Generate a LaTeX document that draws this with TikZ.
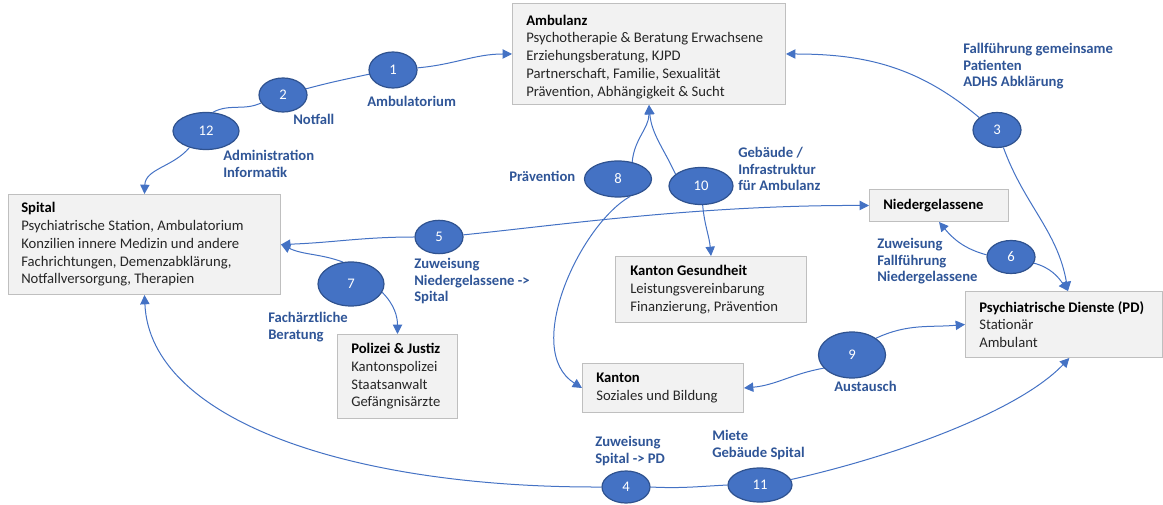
\documentclass[tikz,border=0pt]{standalone}
\usepackage{fontspec}
\setmainfont{Carlito}
\usetikzlibrary{arrows.meta,shapes.geometric}
\definecolor{eblue}{HTML}{4472C4}
\definecolor{eborder}{HTML}{2F528F}
\definecolor{lblue}{HTML}{2F5597}
\definecolor{bfill}{HTML}{F2F2F2}
\definecolor{bdraw}{HTML}{BFBFBF}
\definecolor{btext}{HTML}{262626}
\pgfdeclarelayer{bg}
\pgfsetlayers{bg,main}
\begin{document}
\begin{tikzpicture}[x=0.75pt,y=-0.75pt,
  box/.style={draw=bdraw, fill=bfill, line width=0.75pt, inner sep=0pt, anchor=north west},
  boxtext/.style={anchor=west, align=left, inner sep=0pt, text=btext, font=\fontsize{11pt}{13.3pt}\selectfont},
  num/.style={ellipse, fill=eblue, draw=eborder, line width=0.9pt, text=white, inner sep=0pt, font=\fontsize{11pt}{13pt}\selectfont},
  lab/.style={anchor=north west, align=left, inner sep=0pt, text=lblue, font=\fontsize{11pt}{12.4pt}\selectfont\bfseries},
  conn/.style={draw=eblue, line width=0.75pt},
  arr/.style={conn, -{Triangle[length=7pt,width=7pt]}},
]
\useasboundingbox (0,0) rectangle (1163,505);

% boxes
\node[box, minimum width=204.75pt, minimum height=75.75pt] (amb) at (512,3) {};
\node[boxtext] (ambt) at ([xshift=10.5pt,yshift=-2pt]amb.west) {{\bfseries\color{black}Ambulanz}\\Psychotherapie \& Beratung Erwachsene\\Erziehungsberatung, KJPD\\Partnerschaft, Familie, Sexualität\\Prävention, Abhängigkeit \& Sucht};

\node[box, minimum width=204pt, minimum height=75pt] (sp) at (8,194) {};
\node[boxtext] (spt) at ([xshift=9.75pt]sp.west) {{\bfseries\color{black}Spital}\\Psychiatrische Station, Ambulatorium\\Konzilien innere Medizin und andere\\Fachrichtungen, Demenzabklärung,\\Notfallversorgung, Therapien};

\node[box, minimum width=104.25pt, minimum height=24pt] (nied) at (869,189) {};
\node[boxtext] (niedt) at ([xshift=10.5pt]nied.west) {{\bfseries\color{black}Niedergelassene}};

\node[box, minimum width=143.25pt, minimum height=49.5pt] (kg) at (615,256) {};
\node[boxtext] (kgt) at ([xshift=11.25pt]kg.west) {{\bfseries\color{black}Kanton Gesundheit}\\Leistungsvereinbarung\\Finanzierung, Prävention};

\node[box, minimum width=90pt, minimum height=63pt] (pol) at (337,334) {};
\node[boxtext] (polt) at ([xshift=10.5pt]pol.west) {{\bfseries\color{black}Polizei \& Justiz}\\Kantonspolizei\\Staatsanwalt\\Gefängnisärzte};

\node[box, minimum width=120.75pt, minimum height=36.75pt] (kan) at (582,363) {};
\node[boxtext] (kant) at ([xshift=10.5pt]kan.west) {{\bfseries\color{black}Kanton}\\Soziales und Bildung};

\node[box, minimum width=147.75pt, minimum height=49.5pt] (pd) at (965,291) {};
\node[boxtext] (pdt) at ([xshift=10.5pt]pd.west) {{\bfseries\color{black}Psychiatrische Dienste (PD)}\\Stationär\\Ambulant};

% ellipses
\node[num, minimum width=36pt, minimum height=27pt] (e1) at (393,70) {1};
\node[num, minimum width=36pt, minimum height=25.5pt] (e2) at (283,95) {2};
\node[num, minimum width=49.5pt, minimum height=27.75pt] (e12) at (206,131) {12};
\node[num, minimum width=36pt, minimum height=26.25pt] (e3) at (997,130) {3};
\node[num, minimum width=36pt, minimum height=25pt] (e5) at (439,237) {5};
\node[num, minimum width=50.25pt, minimum height=27pt] (e8) at (618,179) {8};
\node[num, minimum width=48pt, minimum height=27.75pt] (e10) at (701,186) {10};
\node[num, minimum width=49.5pt, minimum height=33pt] (e7) at (351,284) {7};
\node[num, minimum width=36pt, minimum height=24.75pt] (e6) at (1011,257) {6};
\node[num, minimum width=50.25pt, minimum height=34.5pt] (e9) at (852,355) {9};
\node[num, minimum width=36pt, minimum height=24pt] (e4) at (626,487) {4};
\node[num, minimum width=48pt, minimum height=25.5pt] (e11) at (760,485) {11};

% labels
\node[lab] (l1) at (367,96) {Ambulatorium};
\node[lab] (l2) at (293,114) {Notfall};
\node[lab] (l12) at (223,150) {Administration\\Informatik};
\node[lab] (l3) at (963,43) {Fallführung gemeinsame\\Patienten\\ADHS Abklärung};
\node[lab] (l8) at (509,171) {Prävention};
\node[lab] (l10) at (738,147) {Gebäude /\\Infrastruktur\\für Ambulanz};
\node[lab] (l5) at (414,258) {Zuweisung\\Niedergelassene ->\\Spital};
\node[lab] (l7) at (268,312) {Fachärztliche\\Beratung};
\node[lab] (l6) at (877,238) {Zuweisung\\Fallführung\\Niedergelassene};
\node[lab] (l9) at (834,381) {Austausch};
\node[lab] (l4) at (595,436) {Zuweisung\\Spital -> PD};
\node[lab] (l11) at (712,430) {Miete\\Gebäude Spital};

% connectors
\begin{pgfonlayer}{bg}
\draw[arr] (e12.225) to[out=230,in=88] (sp.north);
\draw[arr] (e1.5) to[out=5,in=180] (amb.west);
\draw[arr] (e3.145) to[out=140,in=0] (amb.east);
\draw[arr] (e3.290) to[out=-70,in=100] ([xshift=3pt]pd.north);
\draw[arr] (e6.345) to[out=-15,in=125] ([xshift=3pt]pd.north);
\draw[arr] (e6.175) to[out=165,in=-50] (nied.south);
\draw[arr] (e5.west) to[out=180,in=2] (sp.east);
\draw[arr] (e5.5) .. controls (560,225) and (700,205) .. (nied.west);
\draw[arr] (e7.110) to[out=160,in=-25] (sp.east);
\draw[arr] (e7.345) to[out=-45,in=90] (pol.north);
\draw[arr] (e8.50) to[out=85,in=-90] (amb.south);
\draw[arr] (e10.155) to[out=115,in=-85] (amb.south);
\draw[arr] (e8.305) .. controls (580,225) and (522,350) .. (kan.west);
\draw[arr] (e10.275) to[out=-85,in=95] (kg.north);
\draw[arr] (e9.35) to[out=25,in=185] (pd.west);
\draw[arr] (e9.205) to[out=-170,in=5] (kan.east);
\draw[arr] (e4.west) .. controls (350,488) and (150,420) .. (sp.south);
\draw[arr] (e11.10) .. controls (900,455) and (1020,410) .. ([xshift=4pt]pd.south);
\draw[conn] (e12.70) to[out=28,in=205] (e2.200);
\draw[conn] (e2.15) to[out=15,in=192] (e1.190);
\draw[conn] (e4.east) to[out=-3,in=183] (e11.west);
\end{pgfonlayer}
\end{tikzpicture}
\end{document}
